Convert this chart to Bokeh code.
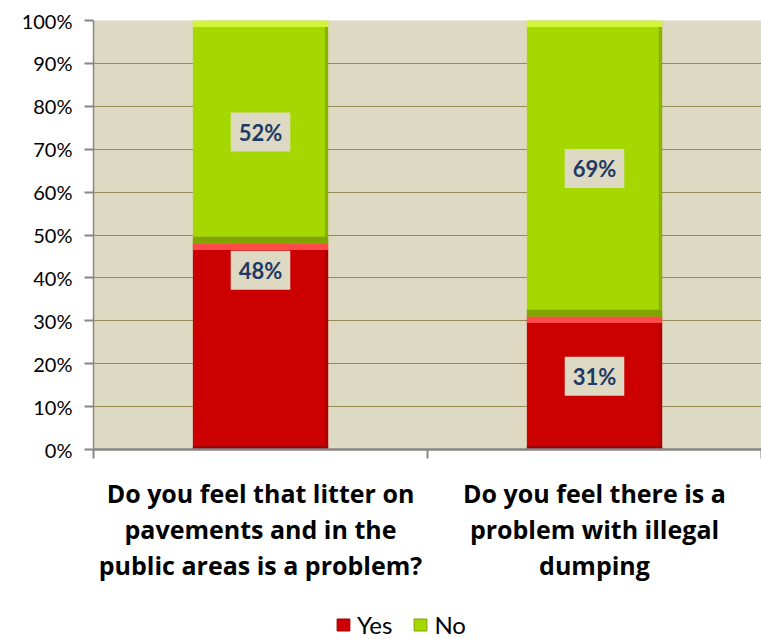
from bokeh.plotting import figure
from bokeh.layouts import column
from bokeh.models import (Range1d, FixedTicker, Legend, LegendItem, ColumnDataSource)
from bokeh.core.properties import value
from bokeh.embed import file_html
from bokeh.resources import INLINE

# ---- data ----
categories = [
    "Do you feel that litter on\npavements and in the\npublic areas is a problem?",
    "Do you feel there is a\nproblem with illegal\ndumping",
]
yes = [48, 31]
no = [52, 69]
y_ticks = [0, 10, 20, 30, 40, 50, 60, 70, 80, 90, 100]
series_names = ["Yes", "No"]

# ---- style ----
RED = "#CC0000"
RED_HI = "#FF4A4A"
RED_DK = "#A00000"
GREEN = "#A5D700"
GREEN_HI = "#D2F53A"
GREEN_DK = "#7FA400"
PLOT_BG = "#DDD9C3"
GRID = "#948A54"
AXIS = "#868686"
LABEL_COLOR = "#1F3864"
FONT = "Lato"
XFONT = "Open Sans"
BAR_W = 0.405
yes_label_frac = [0.87, 0.55]   # where the "Yes" data label sits inside its segment
no_label_frac = [0.5, 0.5]

n = len(categories)
xc = [i + 0.5 for i in range(n)]
left = [x - BAR_W / 2 for x in xc]
right = [x + BAR_W / 2 for x in xc]
yes_top = yes
no_bottom = yes
no_top = [a + b for a, b in zip(yes, no)]

p = figure(frame_width=668, frame_height=429, output_backend="svg", toolbar_location=None,
           x_range=Range1d(0, n), y_range=Range1d(0, 100),
           min_border_left=93, min_border_right=0, min_border_top=20,
           min_border_bottom=151)
p.background_fill_color = PLOT_BG
p.border_fill_color = "white"
p.outline_line_color = None

# main bars
r_yes = p.quad(left=left, right=right, bottom=[0] * n, top=yes_top,
               fill_color=RED, line_color=None)
r_no = p.quad(left=left, right=right, bottom=no_bottom, top=no_top,
              fill_color=GREEN, line_color=None)

# bevel effects (highlight on top, darker bottom and sides)
hi = 1.5
sh = 1.6
side = 0.01
p.quad(left=left, right=right, bottom=[t - hi for t in yes_top], top=yes_top,
       fill_color=RED_HI, line_color=None)
p.quad(left=left, right=right, bottom=[0] * n, top=[0.8] * n,
       fill_color=RED_DK, line_color=None)
p.quad(left=[r - side for r in right], right=right, bottom=[0] * n, top=[t - hi for t in yes_top],
       fill_color=RED_DK, line_color=None, fill_alpha=0.7)
p.quad(left=left, right=right, bottom=[t - hi for t in no_top], top=no_top,
       fill_color=GREEN_HI, line_color=None)
p.quad(left=left, right=right, bottom=no_bottom, top=[b + sh for b in no_bottom],
       fill_color=GREEN_DK, line_color=None)
p.quad(left=[r - side for r in right], right=right, bottom=no_bottom, top=[t - hi for t in no_top],
       fill_color=GREEN_DK, line_color=None, fill_alpha=0.7)

# data labels
lab_x = xc + xc
lab_y = [y * f for y, f in zip(yes, yes_label_frac)] + \
        [b + v * f for b, v, f in zip(no_bottom, no, no_label_frac)]
lab_t = [f"{v}%" for v in yes] + [f"{v}%" for v in no]
src = ColumnDataSource(dict(x=lab_x, y=lab_y, t=lab_t))
p.text(x="x", y="y", text="t", source=src, text_font=value(FONT),
       text_font_style="bold", text_font_size="22px", text_color=LABEL_COLOR,
       text_align="center", text_baseline="middle",
       background_fill_color=PLOT_BG, padding=(8, 8, 6, 6))

# grid
p.xgrid.grid_line_color = None
p.ygrid.grid_line_color = GRID
p.ygrid.grid_line_width = 1.2
p.ygrid.ticker = FixedTicker(ticks=y_ticks)

# y axis
ya = p.yaxis[0]
ya.ticker = FixedTicker(ticks=y_ticks)
ya.major_label_overrides = {t: f"{t}%" for t in y_ticks}
ya.axis_line_color = AXIS
ya.axis_line_width = 1.5
ya.major_tick_line_color = AXIS
ya.major_tick_line_width = 2
ya.major_tick_out = 9
ya.major_tick_in = 0
ya.minor_tick_line_color = None
ya.major_label_text_font = FONT
ya.major_label_text_font_size = "20px"
ya.major_label_text_color = "black"
ya.major_label_standoff = 12

# x axis
xa = p.xaxis[0]
xa.ticker = FixedTicker(ticks=xc, minor_ticks=list(range(n + 1)))
xa.major_label_overrides = {x: c for x, c in zip(xc, categories)}
xa.axis_line_color = AXIS
xa.axis_line_width = 2.5
xa.major_tick_line_color = None
xa.major_tick_out = 0
xa.major_tick_in = 0
xa.minor_tick_line_color = AXIS
xa.minor_tick_line_width = 2
xa.minor_tick_out = 9
xa.minor_tick_in = 0
xa.major_label_text_font = XFONT
xa.major_label_text_font_style = "bold"
xa.major_label_text_font_size = "25px"
xa.major_label_text_color = "black"
xa.major_label_text_line_height = 1.06
xa.major_label_standoff = 17

# legend strip (a small figure under the chart, holding only the legend);
# its bars use the same data but lie outside its visible y-range
lg = figure(width=761, height=39, output_backend="svg", toolbar_location=None,
            x_axis_type=None, y_axis_type=None,
            x_range=Range1d(0, n), y_range=Range1d(-20, -10),
            min_border_left=0, min_border_right=0, min_border_top=0, min_border_bottom=0)
lg.outline_line_color = None
lg.grid.grid_line_color = None
lg.background_fill_color = "white"
lg.border_fill_color = "white"
k_yes = lg.quad(left=left, right=right, bottom=[0] * n, top=yes_top,
                fill_color=RED, line_color=RED_DK, line_width=1)
k_no = lg.quad(left=left, right=right, bottom=no_bottom, top=no_top,
               fill_color=GREEN, line_color=GREEN_DK, line_width=1)
legend = Legend(items=[LegendItem(label=series_names[0], renderers=[k_yes]),
                       LegendItem(label=series_names[1], renderers=[k_no])],
                orientation="horizontal", location=(242, 0),
                glyph_width=16, glyph_height=15, label_standoff=6, spacing=20,
                padding=0, margin=0, border_line_color=None,
                background_fill_alpha=0, label_text_font=FONT,
                label_text_color="black",
                label_text_font_size="24px", label_height=24)
lg.add_layout(legend, "center")

layout = column(p, lg, spacing=0)
open("out.html", "w").write(file_html(layout, INLINE))
